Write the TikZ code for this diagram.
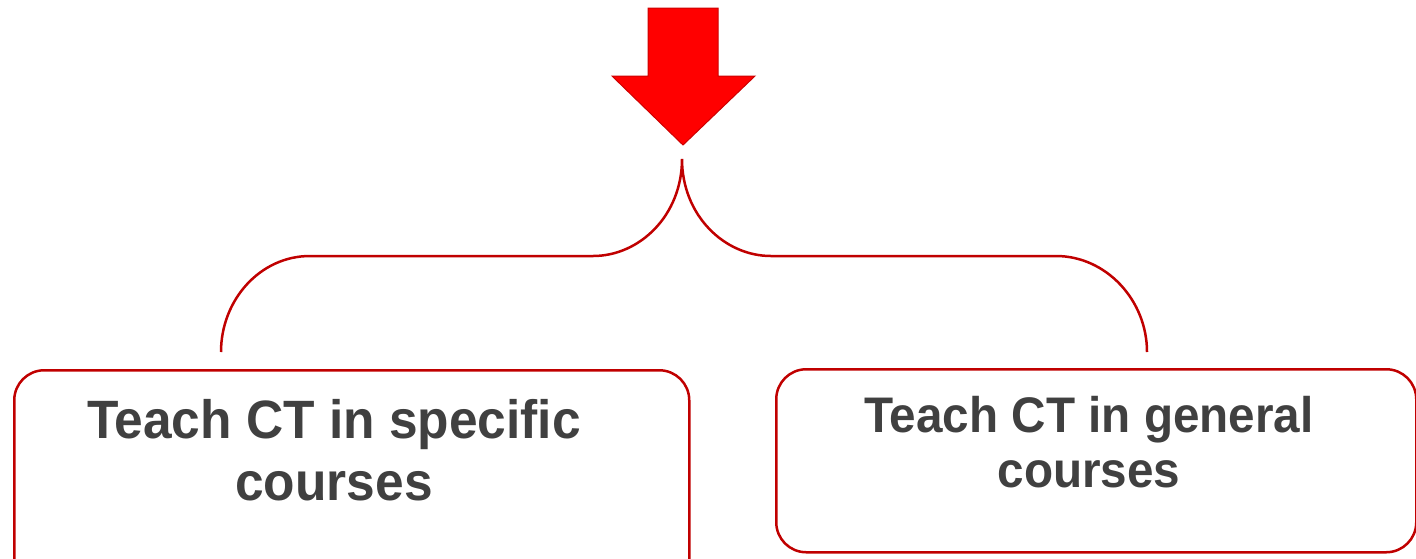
\documentclass[tikz,border=0pt]{standalone}
\usepackage{fontspec}
\setmainfont{Liberation Sans}
\newfontfamily\coursefont[FakeStretch=0.953]{Liberation Sans}
\usetikzlibrary{positioning}
\definecolor{boxred}{HTML}{C00000}
\definecolor{arrowred}{HTML}{FF0000}
\definecolor{textgray}{HTML}{404040}

\begin{document}
\begin{tikzpicture}[x=1pt, y=-1pt,
    coursebox/.style={draw=boxred, line width=2.5pt, rounded corners=30pt, inner sep=0pt},
    coursetext/.style={text=textgray, align=center, inner sep=0pt, anchor=north}]
  \useasboundingbox (0,0) rectangle (1416,558);

  % arrow on top
  \filldraw[fill=arrowred, draw=boxred!80!arrowred, line width=1pt]
    (648,8) -- (718,8) -- (718,76) -- (755,76) -- (683,145) -- (612,76) -- (648,76) -- cycle;

  % the two boxes
  \node[coursebox, minimum width=675, minimum height=230, anchor=north west] (specific) at (13,369) {};
  \node[coursebox, minimum width=640, minimum height=183, anchor=north west] (general) at (775,368) {};
  \node[coursetext, font=\coursefont\fontsize{54}{62}\selectfont\bfseries] (spectext) at (334,399) {Teach CT in specific\\courses};
  \node[coursetext, font=\coursefont\fontsize{50}{55}\selectfont\bfseries] (gentext) at (1089,396) {Teach CT in general\\courses};

  % brace
  \coordinate (top) at (682,159);
  \coordinate (leftend) at (221,352);
  \coordinate (rightend) at (1147,352);
  \draw[boxred, line width=2.5pt]
    (leftend) .. controls (221,300) and (260,256) .. (310,256) -- (593,256)
    .. controls (640,256) and (682,215) .. (top)
    .. controls (682,215) and (724,256) .. (771,256) -- (1056,256)
    .. controls (1106,256) and (1147,300) .. (rightend);
\end{tikzpicture}
\end{document}
